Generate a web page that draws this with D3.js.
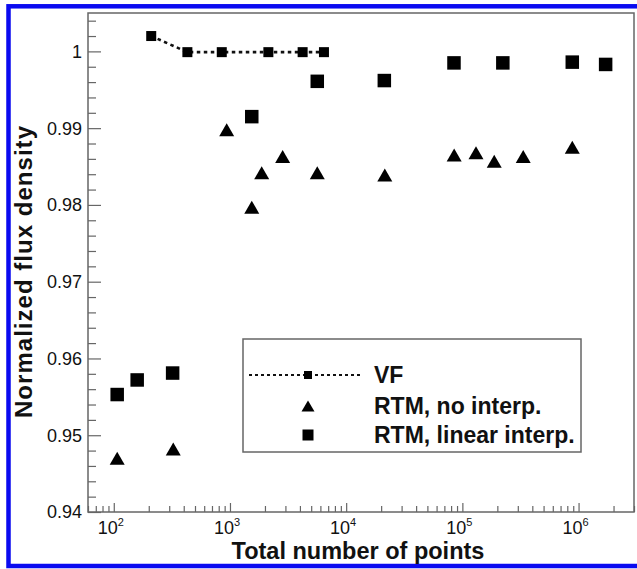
<!DOCTYPE html>
<html>
<head>
<meta charset="utf-8">
<script src="https://cdn.jsdelivr.net/npm/d3@7"></script>
<style>
  html, body { margin: 0; padding: 0; background: #fff; }
  svg { display: block; font-family: "Liberation Sans", Arial, Helvetica, sans-serif; }
</style>
</head>
<body>
<svg id="chart" width="637" height="569"></svg>
<script>
// View-factor reference solution
const vfPoints = [210, 430, 850, 2140, 4220, 6440];
const vfFlux   = [1.0020, 0.9999, 0.9999, 0.9999, 0.9999, 0.9999];

// Ray-tracing, no interpolation
const rtmNoPoints = [107, 325, 937, 1540, 1875, 2840, 5640, 21500, 85000, 131000, 188000, 334000, 883000];
const rtmNoFlux   = [0.9470, 0.9482, 0.9898, 0.9797, 0.9842, 0.9863, 0.9842, 0.9839, 0.9865, 0.9868, 0.9857, 0.9863, 0.9875];

// Ray-tracing, linear interpolation
const rtmLinPoints = [107, 159, 321, 1540, 5640, 21300, 84700, 223000, 883000, 1710000];
const rtmLinFlux   = [0.9553, 0.9572, 0.9581, 0.9915, 0.9961, 0.9962, 0.9985, 0.9985, 0.9986, 0.9983];

// Axis ticks
const xMajorTicks = [1e2, 1e3, 1e4, 1e5, 1e6];
const xMajorExps  = ["2", "3", "4", "5", "6"];
const yMajorTicks = [0.94, 0.95, 0.96, 0.97, 0.98, 0.99, 1.00];
const yMajorLabels = ["0.94", "0.95", "0.96", "0.97", "0.98", "0.99", "1"];

const legendLabels = ["VF", "RTM, no interp.", "RTM, linear interp."];

const svg = d3.select("#chart");
const W = 637, H = 569;
const plot = { left: 88, right: 634, top: 13, bottom: 512 };

// page frame
svg.append("rect").attr("x", 0).attr("y", 0).attr("width", W).attr("height", H).attr("fill", "#fff");
svg.append("rect").attr("x", 8.5).attr("y", 6.3).attr("width", W + 10).attr("height", 559.7)
  .attr("fill", "none").attr("stroke", "#0a0af0").attr("stroke-width", 4.5);

const x = d3.scaleLog().domain([60, 3e6]).range([plot.left, plot.right]);
const y = d3.scaleLinear().domain([0.94, 1.005]).range([plot.bottom, plot.top]);

const axisColor = "#666";

// minor ticks: 2..9 per decade on x, every 0.002 on y
const xMinor = [];
for (let e = 1; e <= 6; e++) {
  for (let m = 2; m <= 9; m++) {
    const v = m * Math.pow(10, e);
    if (v >= 60 && v <= 3e6) xMinor.push(v);
  }
}
const yMinor = d3.range(0, 33).map(i => +(0.94 + i * 0.002).toFixed(3))
  .filter(v => Math.abs(Math.round(v * 100) - v * 100) > 1e-6 && v < 1.005);

const gx = svg.append("g").attr("transform", `translate(0,${plot.bottom})`);
gx.call(d3.axisBottom(x).tickValues(xMinor).tickSize(-6).tickFormat(""));
gx.append("g").call(d3.axisBottom(x).tickValues(xMajorTicks).tickSize(-9).tickFormat(""));
gx.selectAll(".domain").remove();
gx.selectAll("line").attr("stroke", axisColor).attr("stroke-width", 1.2);

const gy = svg.append("g").attr("transform", `translate(${plot.left},0)`);
gy.call(d3.axisLeft(y).tickValues(yMinor).tickSize(-8).tickFormat(""));
gy.append("g").call(d3.axisLeft(y).tickValues(yMajorTicks).tickSize(-13).tickFormat(""));
gy.selectAll(".domain").remove();
gy.selectAll("line").attr("stroke", axisColor).attr("stroke-width", 1.2);

// frame
svg.append("rect")
  .attr("x", plot.left).attr("y", plot.top)
  .attr("width", plot.right - plot.left).attr("height", plot.bottom - plot.top)
  .attr("fill", "none").attr("stroke", axisColor).attr("stroke-width", 1.5);

// y tick labels
svg.append("g").selectAll("text").data(yMajorTicks).join("text")
  .attr("x", 82).attr("y", d => y(d)).attr("dy", "0.36em")
  .attr("text-anchor", "end").attr("font-size", 18).attr("fill", "#111")
  .text((d, i) => yMajorLabels[i]);

// x tick labels (10^n)
const xl = svg.append("g").selectAll("text").data(xMajorTicks).join("text")
  .attr("x", d => x(d) - 3).attr("y", 534)
  .attr("text-anchor", "middle").attr("font-size", 18).attr("fill", "#111");
xl.append("tspan").text("10");
xl.append("tspan").attr("dy", -8).attr("font-size", 11).text((d, i) => xMajorExps[i]);

// axis titles
svg.append("text").attr("x", 358).attr("y", 559).attr("text-anchor", "middle")
  .attr("font-size", 23.5).attr("font-weight", "bold").attr("fill", "#111")
  .text("Total number of points");
svg.append("text").attr("transform", "translate(32,272) rotate(-90)")
  .attr("text-anchor", "middle").attr("font-size", 24).attr("font-weight", "bold").attr("fill", "#111")
  .attr("textLength", 292).attr("lengthAdjust", "spacing")
  .text("Normalized flux density");

// markers
const triPath = (w, h) => `M0,${-h / 2}L${w / 2},${h / 2}L${-w / 2},${h / 2}Z`;

// VF dotted line + squares
const vfData = vfPoints.map((n, i) => [n, vfFlux[i]]);
svg.append("path").datum(vfData)
  .attr("d", d3.line().x(d => x(d[0])).y(d => y(d[1])))
  .attr("fill", "none").attr("stroke", "#111").attr("stroke-width", 2.6).attr("stroke-dasharray", "3.5,3.5");
svg.append("g").selectAll("rect").data(vfData).join("rect")
  .attr("x", d => x(d[0]) - 5).attr("y", d => y(d[1]) - 5)
  .attr("width", 10).attr("height", 10).attr("fill", "#000");

// RTM no interp triangles
svg.append("g").selectAll("path").data(rtmNoPoints.map((n, i) => [n, rtmNoFlux[i]])).join("path")
  .attr("transform", d => `translate(${x(d[0])},${y(d[1])})`)
  .attr("d", triPath(15, 13)).attr("fill", "#000");

// RTM linear interp squares
svg.append("g").selectAll("rect").data(rtmLinPoints.map((n, i) => [n, rtmLinFlux[i]])).join("rect")
  .attr("x", d => x(d[0]) - 6.75).attr("y", d => y(d[1]) - 6.75)
  .attr("width", 13.5).attr("height", 13.5).attr("fill", "#000");

// legend
const lg = svg.append("g");
lg.append("rect").attr("x", 243).attr("y", 339).attr("width", 338).attr("height", 113)
  .attr("fill", "#fff").attr("stroke", axisColor).attr("stroke-width", 1.5);
const rowY = [375, 406, 435];
lg.append("line").attr("x1", 249).attr("x2", 362).attr("y1", rowY[0]).attr("y2", rowY[0])
  .attr("stroke", "#111").attr("stroke-width", 2).attr("stroke-dasharray", "3,3");
lg.append("rect").attr("x", 304).attr("y", rowY[0] - 4).attr("width", 8).attr("height", 8).attr("fill", "#000");
lg.append("path").attr("transform", `translate(308,${rowY[1]})`).attr("d", triPath(13, 11)).attr("fill", "#000");
lg.append("rect").attr("x", 302.5).attr("y", rowY[2] - 5.5).attr("width", 11).attr("height", 11).attr("fill", "#000");
lg.selectAll("text.lbl").data(legendLabels).join("text").attr("class", "lbl")
  .attr("x", 374).attr("y", (d, i) => rowY[i]).attr("dy", "0.36em")
  .attr("font-size", 23).attr("font-weight", "bold").attr("fill", "#111")
  .text(d => d);
</script>
</body>
</html>
